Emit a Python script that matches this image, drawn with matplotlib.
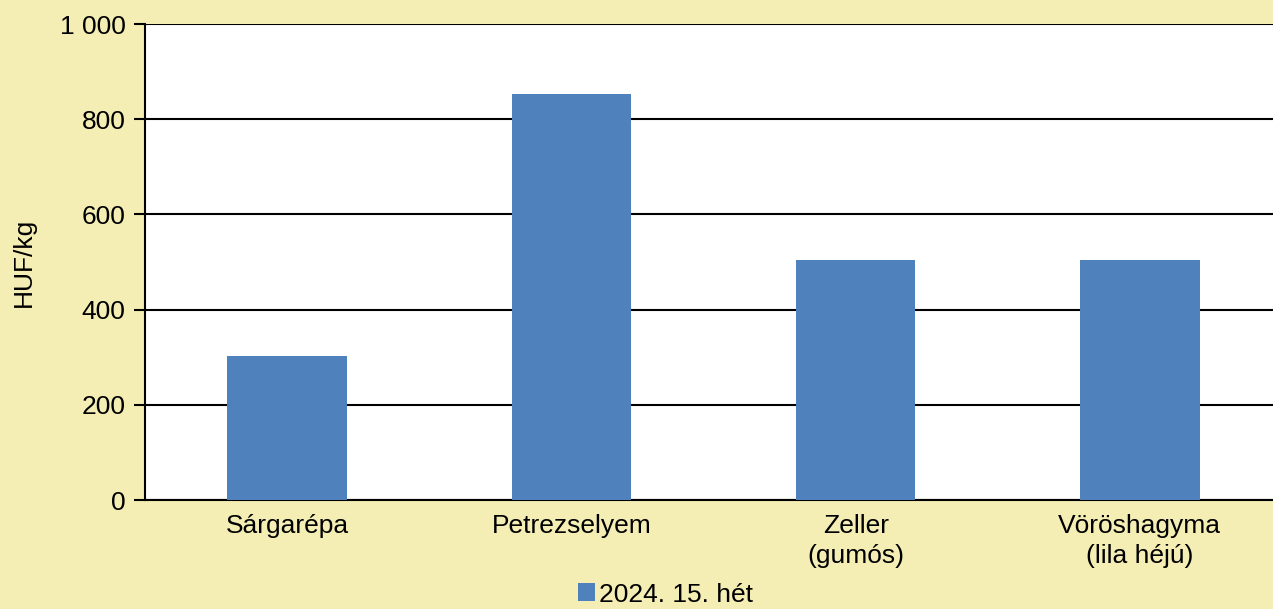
import matplotlib.pyplot as plt
import numpy as np
from matplotlib.patches import Patch

plt.rcParams['font.family'] = ['Liberation Sans', 'DejaVu Sans']

categories = ['Sárgarépa', 'Petrezselyem', 'Zeller\n(gumós)', 'Vöröshagyma\n(lila héjú)']
values = [303, 853, 504, 504]
series_label = '2024. 15. hét'
y_ticks = [0, 200, 400, 600, 800, 1000]
y_tick_labels = ['0', '200', '400', '600', '800', '1 000']

bg = '#F4EEB4'
bar_color = '#4F81BD'
fs = 19

fig = plt.figure(figsize=(12.73, 6.09), dpi=100, facecolor=bg)
ax = fig.add_axes([145 / 1273, 1 - 500 / 609, (1282 - 145) / 1273, (500 - 24) / 609])
ax.set_facecolor('white')

x = np.arange(len(categories))
ax.bar(x, values, width=0.42, color=bar_color, zorder=3)

ax.set_xlim(-0.5, len(categories) - 0.5)
ax.set_ylim(0, 1000)
ax.set_yticks(y_ticks)
ax.set_yticklabels(y_tick_labels, fontsize=fs)
ax.set_xticks(x)
ax.set_xticklabels(categories, fontsize=fs, linespacing=1.3)
ax.tick_params(axis='x', length=0, pad=10)
ax.tick_params(axis='y', length=8, width=1.5, pad=6)

ax.grid(axis='y', color='black', linewidth=1.5, zorder=1)
for side in ['top', 'right']:
  ax.spines[side].set_visible(False)
ax.spines['left'].set_linewidth(1.5)
ax.spines['bottom'].set_linewidth(1.5)

ax.set_ylabel('HUF/kg', fontsize=fs)
ax.yaxis.set_label_coords((36 - 145) / (1282 - 145), 0.5)

handles = [Patch(facecolor=bar_color, label=series_label)]
fig.legend(handles=handles, loc='lower center', bbox_to_anchor=(0.523, -0.035), frameon=False,
           fontsize=fs, handlelength=0.65, handleheight=0.65, handletextpad=0.15)

fig.savefig('out.png', dpi=100, facecolor=bg)
